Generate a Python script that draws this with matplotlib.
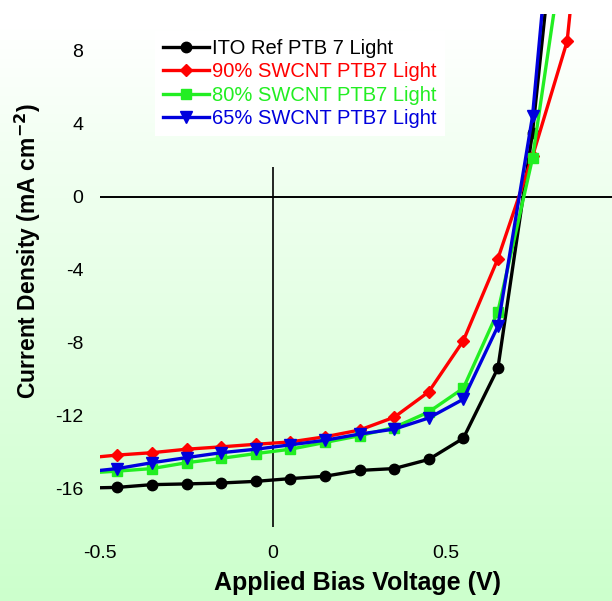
#!/usr/bin/env python3

import numpy as np
import matplotlib
matplotlib.use("Agg")
import matplotlib.pyplot as plt
from matplotlib.colors import LinearSegmentedColormap

plt.rcParams["font.family"] = ["Liberation Sans", "DejaVu Sans"]
plt.rcParams["axes.unicode_minus"] = False

# bias voltage (V); first point only starts the line, markers from -0.45 on
voltage = [-0.5, -0.45, -0.35, -0.25, -0.15, -0.05, 0.05, 0.15, 0.25,
           0.35, 0.45, 0.55, 0.65, 0.75, 0.85, 0.95]

# current density (mA cm^-2)
ito_ref = [-15.95, -15.93, -15.78, -15.74, -15.69, -15.6, -15.45, -15.32,
           -15.0, -14.9, -14.4, -13.24, -9.4, 3.5, 21.5, 40.0]
swcnt_90 = [-14.25, -14.16, -14.03, -13.84, -13.71, -13.57, -13.44, -13.16,
            -12.79, -12.09, -10.7, -7.9, -3.4, 2.2, 8.5, 27.0]
swcnt_80 = [-15.1, -15.04, -14.9, -14.58, -14.34, -14.08, -13.84, -13.47,
            -13.1, -12.65, -11.8, -10.5, -6.3, 2.1, 15.0, 33.0]
swcnt_65 = [-15.0, -14.9, -14.58, -14.3, -14.03, -13.84, -13.6, -13.35,
            -13.01, -12.74, -12.13, -11.1, -7.1, 4.4, 25.0, 45.0]

series = [
  ("ITO Ref PTB 7 Light", ito_ref, "black", "o", 7.5),
  ("90% SWCNT PTB7 Light", swcnt_90, "#ff0000", "D", 6.5),
  ("80% SWCNT PTB7 Light", swcnt_80, "#22ee22", "s", 7.5),
  ("65% SWCNT PTB7 Light", swcnt_65, "#0000dd", "v", 8.5),
]

x_ticks = [-0.5, 0, 0.5]
x_tick_labels = ["-0.5", "0", "0.5"]
y_ticks = [-16, -12, -8, -4, 0, 4, 8]

fig = plt.figure(figsize=(6.12, 6.01), dpi=100)

# white-to-green page background
bg = fig.add_axes([0, 0, 1, 1])
cmap = LinearSegmentedColormap.from_list(
  "bg", [(0.0, "#ffffff"), (0.05, "#ffffff"), (0.25, "#f2fff2"), (1.0, "#ccffcc")])
bg.imshow(np.linspace(0, 1, 256).reshape(-1, 1), aspect="auto", cmap=cmap,
          extent=[0, 1, 0, 1])
bg.axis("off")

ax = fig.add_axes([100 / 612, 74 / 601, 519 / 612, 513 / 601])
ax.patch.set_alpha(0)
ax.set_xlim(-0.5, 1.0)
ax.set_ylim(-18.1, 10)

# axes crossing at the origin
ax.hlines(0, -0.5, 1.0, color="black", lw=1.4, zorder=1)
ax.vlines(0, -18.1, 1.6, color="black", lw=1.2, zorder=1)

for label, values, color, marker, ms in series:
  ax.plot(voltage, values, color=color, lw=2.4, marker=marker, ms=ms,
          markevery=slice(1, None), label=label, zorder=3)

for s in ax.spines.values():
  s.set_visible(False)

ax.set_xticks(x_ticks)
ax.set_xticklabels(x_tick_labels)
ax.set_yticks(y_ticks)
ax.tick_params(axis="both", length=0, labelsize=14)
ax.tick_params(axis="x", pad=13)
ax.tick_params(axis="y", pad=12)

fig.text(357 / 612, 1 - 583 / 601, "Applied Bias Voltage (V)", fontsize=18,
         fontweight="bold", ha="center", va="center")
fig.text(28 / 612, 1 - 251 / 601, "Current Density (mA cm$^{\\mathbf{-2}}$)",
         fontsize=16.5, fontweight="bold", ha="center", va="center",
         rotation=90)

leg = ax.legend(loc="upper left", bbox_to_anchor=(155 / 612, 1 - 31 / 601),
                bbox_transform=fig.transFigure, fontsize=14.5, frameon=True,
                fancybox=False, framealpha=1, edgecolor="none",
                handlelength=2.3, handletextpad=0.15, labelspacing=0.22,
                borderpad=0.4, borderaxespad=0, labelcolor="linecolor")
leg.set_zorder(5)

fig.savefig("out.png", dpi=100)
